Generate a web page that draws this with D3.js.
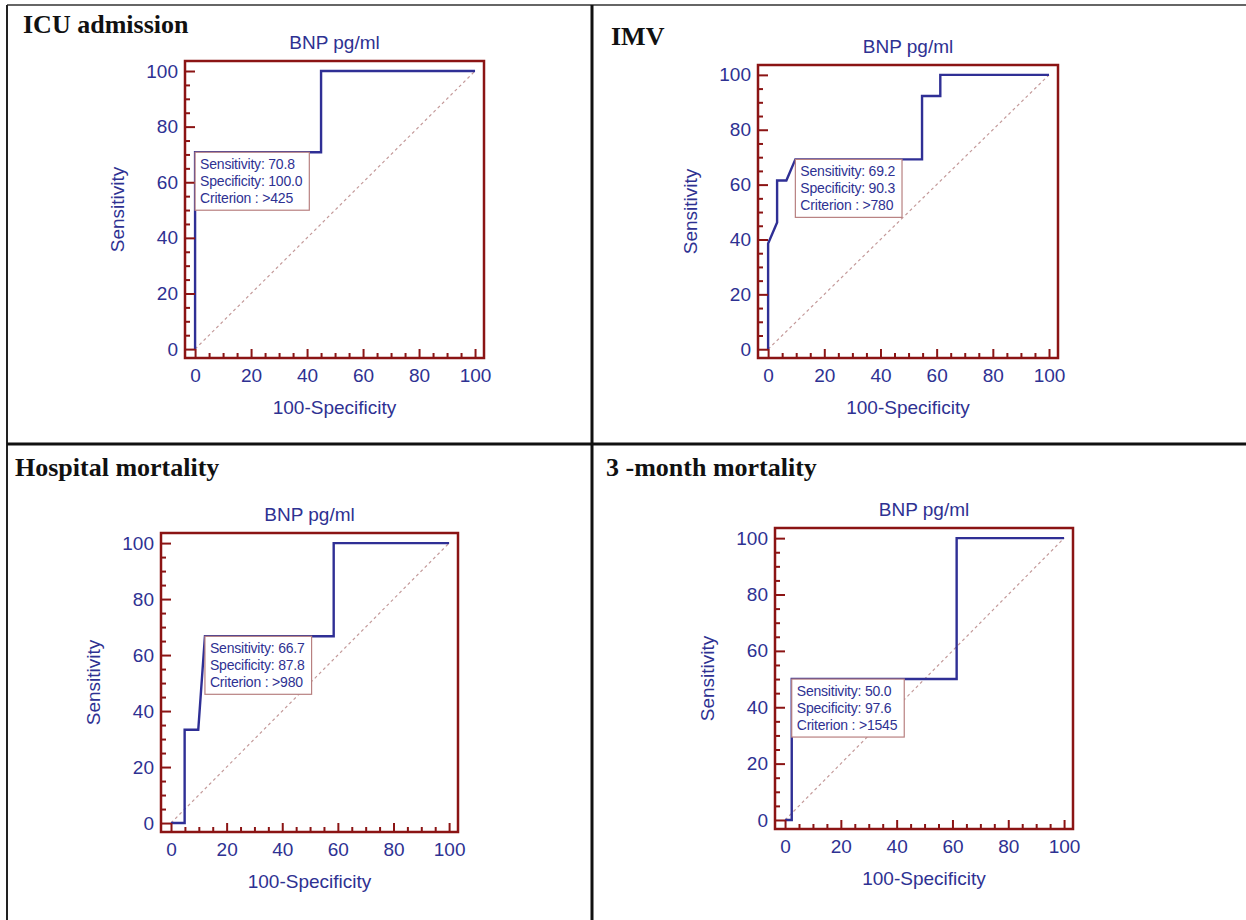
<!DOCTYPE html>
<html>
<head>
<meta charset="utf-8">
<script src="https://cdn.jsdelivr.net/npm/d3@7"></script>
<style>
  body { margin: 0; background: #fff; }
</style>
</head>
<body>
<div id="chart"></div>
<script>
// ROC curves of BNP (pg/ml) for four outcomes
const panelTitles = ['ICU admission', 'IMV', 'Hospital mortality', '3 -month mortality'];

// 100-Specificity (x) and Sensitivity (y) of each curve
const icuX = [0, 0, 45, 45, 100];
const icuY = [0, 70.8, 70.8, 100, 100];
const imvX = [0, 0, 3.2, 3.2, 6.5, 9.7, 54.8, 54.8, 61.3, 61.3, 100];
const imvY = [0, 38.5, 46.2, 61.5, 61.5, 69.2, 69.2, 92.3, 92.3, 100, 100];
const hospX = [0, 4.9, 4.9, 9.8, 12.2, 58.5, 58.5, 100];
const hospY = [0, 0, 33.3, 33.3, 66.7, 66.7, 100, 100];
const m3X = [0, 2.4, 2.4, 61.5, 61.5, 100];
const m3Y = [0, 0, 50, 50, 100, 100];

// optimal cut-off of each curve
const sensitivity = ['70.8', '69.2', '66.7', '50.0'];
const specificity = ['100.0', '90.3', '87.8', '97.6'];
const criterion = ['>425', '>780', '>980', '>1545'];

const majorTicks = [0, 20, 40, 60, 80, 100];
const minorTicks = [5, 10, 15, 25, 30, 35, 45, 50, 55, 65, 70, 75, 85, 90, 95];

const curves = [[icuX, icuY], [imvX, imvY], [hospX, hospY], [m3X, m3Y]];

// where each panel sits on the page
const layout = [
  { left: 185, right: 484, top: 61, bottom: 358, tx: 23, ty: 33 },
  { left: 758, right: 1058, top: 65, bottom: 358, tx: 611, ty: 45 },
  { left: 161, right: 458, top: 533, bottom: 832, tx: 15, ty: 476 },
  { left: 775, right: 1073, top: 528, bottom: 829, tx: 606, ty: 476 }
];

const navy = '#2e3192';
const frameRed = '#8b1414';

const svg = d3.select('#chart')
  .append('svg')
  .attr('width', 1246)
  .attr('height', 920)
  .style('background', '#fff');

// table lines
svg.append('line').attr('x1', 7).attr('y1', 5).attr('x2', 1246).attr('y2', 5)
  .attr('stroke', '#666').attr('stroke-width', 2);
svg.append('line').attr('x1', 7).attr('y1', 5).attr('x2', 7).attr('y2', 920)
  .attr('stroke', '#222').attr('stroke-width', 2);
svg.append('line').attr('x1', 592).attr('y1', 5).attr('x2', 592).attr('y2', 920)
  .attr('stroke', '#111').attr('stroke-width', 3);
svg.append('line').attr('x1', 7).attr('y1', 444).attr('x2', 1246).attr('y2', 444)
  .attr('stroke', '#111').attr('stroke-width', 3);

layout.forEach((p, i) => {
  const g = svg.append('g');
  const x = d3.scaleLinear().domain([-3.6, 103.2]).range([p.left, p.right]);
  const y = d3.scaleLinear().domain([-3.2, 103.6]).range([p.bottom, p.top]);
  const cx = (p.left + p.right) / 2;
  const cy = (p.top + p.bottom) / 2;

  // panel title
  g.append('text')
    .attr('x', p.tx).attr('y', p.ty)
    .attr('font-family', '"Liberation Serif", "Times New Roman", serif')
    .attr('font-weight', 'bold')
    .attr('font-size', '26px')
    .attr('fill', '#111')
    .text(panelTitles[i]);

  g.append('text')
    .attr('x', cx).attr('y', p.top - 12)
    .attr('text-anchor', 'middle')
    .attr('font-family', '"Liberation Sans", Arial, sans-serif')
    .attr('font-size', '19px')
    .attr('fill', navy)
    .text('BNP pg/ml');

  // diagonal reference
  g.append('line')
    .attr('x1', x(0)).attr('y1', y(0))
    .attr('x2', x(100)).attr('y2', y(100))
    .attr('stroke', '#c49a9a')
    .attr('stroke-width', 1.2)
    .attr('stroke-dasharray', '3,3');

  // ROC curve
  const pts = curves[i][0].map((v, k) => [v, curves[i][1][k]]);
  g.append('path')
    .datum(pts)
    .attr('fill', 'none')
    .attr('stroke', '#2f2f95')
    .attr('stroke-width', 2.4)
    .attr('stroke-linejoin', 'miter')
    .attr('d', d3.line().x(d => x(d[0])).y(d => y(d[1])));

  // axes
  const fontAxis = sel => sel.selectAll('text')
    .attr('font-family', '"Liberation Sans", Arial, sans-serif')
    .attr('font-size', '19px')
    .attr('fill', navy);

  const xMaj = g.append('g').attr('transform', `translate(0,${p.bottom})`)
    .call(d3.axisBottom(x).tickValues(majorTicks).tickSize(-9).tickPadding(11));
  const xMin = g.append('g').attr('transform', `translate(0,${p.bottom})`)
    .call(d3.axisBottom(x).tickValues(minorTicks).tickSize(-5).tickFormat(''));
  const yMaj = g.append('g').attr('transform', `translate(${p.left},0)`)
    .call(d3.axisLeft(y).tickValues(majorTicks).tickSize(-10).tickPadding(7));
  const yMin = g.append('g').attr('transform', `translate(${p.left},0)`)
    .call(d3.axisLeft(y).tickValues(minorTicks).tickSize(-5).tickFormat(''));
  [xMaj, xMin, yMaj, yMin].forEach(a => {
    a.select('.domain').remove();
    a.selectAll('line').attr('stroke', frameRed).attr('stroke-width', 2);
    fontAxis(a);
  });

  // frame
  g.append('rect')
    .attr('x', p.left).attr('y', p.top)
    .attr('width', p.right - p.left).attr('height', p.bottom - p.top)
    .attr('fill', 'none')
    .attr('stroke', frameRed)
    .attr('stroke-width', 2.5);

  g.append('text')
    .attr('x', cx).attr('y', p.bottom + 56)
    .attr('text-anchor', 'middle')
    .attr('font-family', '"Liberation Sans", Arial, sans-serif')
    .attr('font-size', '19px')
    .attr('fill', navy)
    .text('100-Specificity');

  g.append('text')
    .attr('transform', `translate(${p.left - 61},${cy}) rotate(-90)`)
    .attr('text-anchor', 'middle')
    .attr('font-family', '"Liberation Sans", Arial, sans-serif')
    .attr('font-size', '19px')
    .attr('fill', navy)
    .text('Sensitivity');

  // cut-off box
  const bx = x(100 - (+specificity[i]));
  const by = y(+sensitivity[i]);
  const box = g.append('g').attr('transform', `translate(${bx},${by})`);
  const rect = box.append('rect')
    .attr('fill', '#fff')
    .attr('stroke', '#b88080')
    .attr('stroke-width', 1.2);
  const lines = ['Sensitivity: ' + sensitivity[i], 'Specificity: ' + specificity[i], 'Criterion : ' + criterion[i]];
  const texts = box.selectAll('text.lbl')
    .data(lines)
    .enter()
    .append('text')
    .attr('class', 'lbl')
    .attr('x', 5)
    .attr('y', (d, k) => 17 + k * 17)
    .attr('font-family', '"Liberation Sans", Arial, sans-serif')
    .attr('font-size', '14px')
    .attr('letter-spacing', '-0.2px')
    .attr('fill', navy)
    .text(d => d);
  let w = 0;
  texts.each(function() { w = Math.max(w, this.getComputedTextLength()); });
  rect.attr('width', w + 12).attr('height', 58);
});
</script>
</body>
</html>
